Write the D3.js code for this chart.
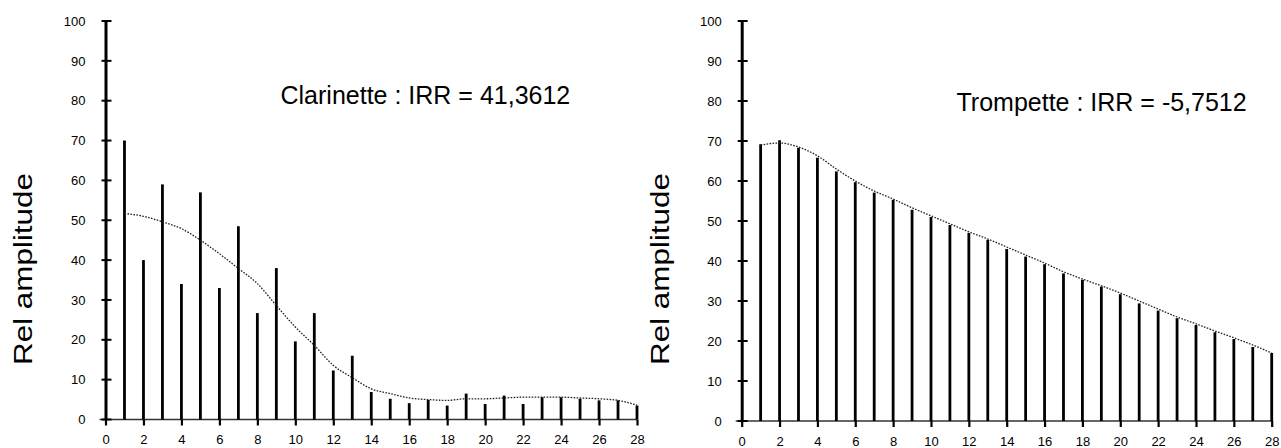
<!DOCTYPE html>
<html>
<head>
<meta charset="utf-8">
<script src="https://cdn.jsdelivr.net/npm/d3@7"></script>
<style>
  html, body { margin: 0; padding: 0; background: #fff; }
  svg { display: block; }
  text { font-family: "Liberation Sans", Arial, sans-serif; fill: #000; }
</style>
</head>
<body>
<svg id="chart" width="1281" height="448"></svg>
<script>
// ---- Data ----
const harmonics = d3.range(1, 29);               // 1..28
const xTickValues = d3.range(0, 29, 2);          // 0,2,...,28
const yTickValues = d3.range(0, 101, 10);        // 0..100
const yLabel = "Rel amplitude";

const clarinetteTitle = "Clarinette : IRR = 41,3612";
const clarinetteAmp = [70, 40, 59, 34, 57, 33, 48.5, 26.7, 38, 19.6, 26.7, 12.3, 16,
                       6.9, 5.2, 4.1, 4.9, 3.5, 6.5, 3.9, 6, 3.9, 5.6, 5.6, 5.2, 4.8, 4.8, 3.5];
const clarinetteEnv = [51.7, 51, 49.6, 47.9, 45, 41.6, 37.9, 34.1, 28.6, 23.2, 18.6, 13.6, 10.5,
                       7.7, 6.5, 5.4, 5.0, 4.8, 5.2, 5.2, 5.4, 5.6, 5.6, 5.6, 5.4, 5.2, 4.8, 3.6];

const trompetteTitle = "Trompette : IRR = -5,7512";
const trompetteAmp = [69.2, 70.2, 68.3, 65.8, 62.4, 59.7, 57.1, 55.3, 52.8, 51, 49, 47, 45.3,
                      43, 41.1, 39.2, 36.9, 35.3, 33.6, 31.7, 29.4, 27.6, 25.7, 24, 22.2, 20.5, 18.5, 17];
const trompetteEnv = [69, 69.5, 68.5, 66.3, 63, 60, 57.5, 55.5, 53.3, 51.3, 49.3, 47.3, 45.5,
                      43.5, 41.5, 39.5, 37.3, 35.5, 33.8, 32, 30, 28, 26, 24.3, 22.5, 20.8, 19, 17];

// ---- Layout ----
const panels = [
  { title: clarinetteTitle, amp: clarinetteAmp, env: clarinetteEnv,
    x0: 105.5, x1: 637, yTop: 21, yBot: 419.5, titleX: 280.5, titleY: 103.5, labelX: 31.5 },
  { title: trompetteTitle, amp: trompetteAmp, env: trompetteEnv,
    x0: 741.7, x1: 1271.7, yTop: 21, yBot: 421, titleX: 956.5, titleY: 111, labelX: 668.5 }
];

const svg = d3.select("#chart");

panels.forEach(p => {
  const x = d3.scaleLinear().domain([0, 28]).range([p.x0, p.x1]);
  const y = d3.scaleLinear().domain([0, 100]).range([p.yBot, p.yTop]);
  const g = svg.append("g");

  // x axis
  const xAxis = d3.axisBottom(x).tickValues(xTickValues).tickSize(6).tickPadding(9.5)
    .tickFormat(d3.format("d"));
  const gx = g.append("g").attr("transform", `translate(0,${p.yBot})`).call(xAxis);
  gx.select(".domain").attr("stroke", "#333").attr("stroke-width", 1.6)
    .attr("d", `M${p.x0 - 6},0H${p.x1}`);
  gx.selectAll(".tick line").attr("stroke", "#000").attr("stroke-width", 2.2);
  gx.selectAll(".tick text").attr("font-size", 13).attr("font-family", "Liberation Sans, Arial, sans-serif")
    .attr("fill", "#000");

  // y axis (labels via axis, crossing ticks drawn from scale)
  const yAxis = d3.axisLeft(y).tickValues(yTickValues).tickSize(0).tickPadding(20)
    .tickFormat(d3.format("d"));
  const gy = g.append("g").attr("transform", `translate(${p.x0},0)`).call(yAxis);
  gy.select(".domain").attr("stroke", "#000").attr("stroke-width", 3);
  gy.selectAll(".tick text").attr("font-size", 13).attr("font-family", "Liberation Sans, Arial, sans-serif")
    .attr("fill", "#000");
  g.append("g").selectAll("line").data(yTickValues).join("line")
    .attr("x1", p.x0 - 4).attr("x2", p.x0 + 6)
    .attr("y1", d => y(d)).attr("y2", d => y(d))
    .attr("stroke", "#000").attr("stroke-width", 2);

  // bars (stems)
  g.append("g").selectAll("line").data(harmonics).join("line")
    .attr("x1", d => x(d)).attr("x2", d => x(d))
    .attr("y1", y(0)).attr("y2", (d, i) => y(p.amp[i]))
    .attr("stroke", "#000").attr("stroke-width", 2.8);

  // envelope curve
  const line = d3.line().x((d, i) => x(harmonics[i])).y(d => y(d)).curve(d3.curveMonotoneX);
  g.append("path").datum(p.env).attr("d", line)
    .attr("fill", "none").attr("stroke", "#222").attr("stroke-width", 1.3)
    .attr("stroke-dasharray", "1.6,1.4");

  // title
  g.append("text").attr("x", p.titleX).attr("y", p.titleY)
    .attr("font-size", 25).text(p.title);

  // y label
  g.append("text")
    .attr("transform", `translate(${p.labelX},269) rotate(-90)`)
    .attr("text-anchor", "middle")
    .attr("font-size", 26)
    .attr("textLength", 192).attr("lengthAdjust", "spacingAndGlyphs")
    .text(yLabel);
});
</script>
</body>
</html>
